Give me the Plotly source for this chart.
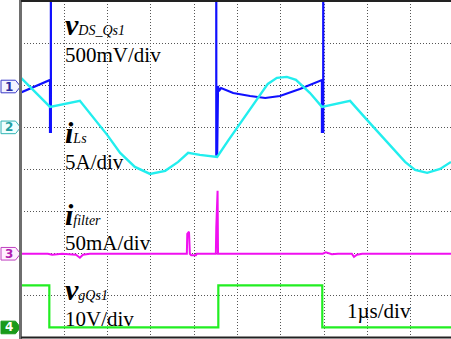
import plotly.graph_objects as go

# ---------------- data (time in µs, 1 µs/div) ----------------
# Channel 1: v_DS_Qs1 in V (500 mV/div); 2.0 V means off the top of the screen
t1 = [0.00, 0.67, 0.67, 0.69, 0.69, 4.51, 4.51, 4.53, 4.55, 4.57, 4.62, 4.90, 5.29, 5.64, 5.98, 6.44, 6.95, 6.95, 6.98, 6.98, 9.93]
v1 = [-0.071, 0.077, -0.54, -0.54, 2.0, 2.0, -0.81, -0.81, 0.006, -0.053, -0.018, -0.077, -0.113, -0.136, -0.113, -0.030, 0.077, -0.54, -0.54, 2.0, 2.0]

# Channel 2: i_Ls in A (5 A/div)
t2 = [0.00, 0.67, 1.36, 1.71, 1.99, 2.29, 2.63, 2.98, 3.33, 3.63, 3.86, 4.13, 4.53, 4.78, 4.99, 5.24, 5.45, 5.70, 5.91, 6.14, 6.35, 6.67, 6.95, 7.60, 7.99, 8.29, 8.57, 8.87, 9.10, 9.38, 9.68, 9.93]
i2 = [5.88, 2.43, 3.15, 0.89, -0.89, -3.03, -4.69, -5.52, -5.16, -4.10, -3.03, -3.26, -3.50, -1.60, -0.06, 1.84, 3.38, 5.16, 5.88, 5.99, 5.64, 4.10, 2.43, 3.15, 0.89, -0.77, -2.43, -4.10, -5.04, -5.40, -4.93, -4.10]

# Channel 3: i_filter in mA (50 mA/div)
t3 = [0.00, 0.62, 0.72, 0.95, 1.27, 1.36, 1.43, 1.59, 3.83, 3.84, 3.88, 3.90, 3.93, 4.04, 4.06, 4.50, 4.51, 4.53, 4.54, 4.55, 6.97, 7.04, 7.18, 7.32, 7.64, 7.69, 7.76, 7.88, 8.45, 9.93]
i3 = [0.0, 0.0, -1.2, 0.0, -1.2, -4.7, -1.2, 0.0, 0.0, 23.7, 26.1, 0.0, -1.8, -1.8, 0.0, 0.0, 30.9, 74.8, 74.8, 0.0, 0.0, 1.8, -0.6, 0.0, 0.0, -3.6, -1.2, 0.0, 0.0, 0.0]

# Channel 4: v_gQs1 in V (10 V/div)
t4 = [0.00, 0.654, 0.654, 4.557, 4.557, 6.958, 6.958, 9.93]
v4 = [10, 10, 0, 0, 10, 10, 0, 0]

# channel settings: reference level (div from bottom), units per div
ch_names = ["1", "2", "3", "4"]
ch_ref = [5.97, 5.0, 2.0, 0.25]
ch_scale = [0.5, 5.0, 50.0, 10.0]
ch_color = ["#1010ff", "#22eeee", "#f010f0", "#22ee22"]

labels_main = ["v", "i", "i", "v"]
labels_sub = ["DS_Qs1", "Ls", "filter", "gQs1"]
labels_scale = ["500mV/div", "5A/div", "50mA/div", "10V/div"]
time_label = "1µs/div"

# ---------------- figure ----------------
W, H = 451, 339
L, T, B = 21, 1, 1
PW = W - L
PH = H - T - B
DIVX = 43.3
XMAX = PW / DIVX


def to_div(vals, k):
    return [ch_ref[k] + v / ch_scale[k] for v in vals]


def px(x):
    return (x - L) / PW


def py(y):
    return (H - B - y) / PH


fig = go.Figure()
order = [(3, t4, v4), (2, t3, i3), (0, t1, v1), (1, t2, i2)]
widths = {0: 2.2, 1: 2.4, 2: 2.0, 3: 2.2}
for k, tt, vv in order:
    fig.add_trace(go.Scatter(x=tt, y=to_div(vv, k), mode="lines",
                             line=dict(color=ch_color[k], width=widths[k]),
                             hoverinfo="skip", showlegend=False))

# channel markers on the left
mk_fill = ["#f4f4ff", "#f0ffff", "#fff0ff", "#1a9a1a"]
mk_line = ["#3a3ac8", "#30b4b4", "#c040c0", "#1a9a1a"]
mk_text = ["#2a2aa0", "#20a0a0", "#b020b0", "#ffffff"]
hh = 6.3 / (PH / 8)
for k in range(4):
    y0 = ch_ref[k]
    path = (f"M {px(1)},{y0 - hh} L {px(15.5)},{y0 - hh} L {px(20.5)},{y0} "
            f"L {px(15.5)},{y0 + hh} L {px(1)},{y0 + hh} Z")
    fig.add_shape(type="path", path=path, xref="paper", yref="y",
                  fillcolor=mk_fill[k], line=dict(color=mk_line[k], width=1))
    fig.add_annotation(x=px(8.5), y=y0, xref="paper", yref="y", text=f"<b>{ch_names[k]}</b>",
                       showarrow=False, font=dict(family="DejaVu Sans", size=12, color=mk_text[k]),
                       xanchor="center", yanchor="middle")

# frame
fig.add_shape(type="line", xref="paper", yref="paper", x0=px(20.5), x1=px(20.5), y0=py(H), y1=py(0),
              line=dict(color="#6e6e6e", width=3))
fig.add_shape(type="line", xref="paper", yref="paper", x0=px(21), x1=1, y0=py(1), y1=py(1),
              line=dict(color="#222222", width=2))
fig.add_shape(type="line", xref="paper", yref="paper", x0=px(21), x1=1, y0=py(337.5), y1=py(337.5),
              line=dict(color="#222222", width=2))

SERIF = "Liberation Serif, Times New Roman, serif"
# label layout: (x left, main-label y-center, scale-label y-center)
lab_pos = [(63, 24.8, 54.9),
           (63, 132.8, 161.9),
           (63, 214.8, 242.9),
           (63, 289.8, 318.9)]
for k in range(4):
    mx, my, scy = lab_pos[k]
    txt = (f"<b><i>{labels_main[k]}</i></b>"
           f"<span style='font-size:14px'><i>{labels_sub[k]}</i></span>")
    fig.add_annotation(x=px(mx), y=py(my), xref="paper", yref="paper", text=txt,
                       showarrow=False, xanchor="left", yanchor="middle",
                       font=dict(family=SERIF, size=30, color="#000000"))
    fig.add_annotation(x=px(63), y=py(scy), xref="paper", yref="paper", text=labels_scale[k],
                       showarrow=False, xanchor="left", yanchor="middle",
                       font=dict(family=SERIF, size=21, color="#000000"))

fig.add_annotation(x=px(345), y=py(311), xref="paper", yref="paper", text=time_label,
                   showarrow=False, xanchor="left", yanchor="middle",
                   font=dict(family=SERIF, size=21, color="#000000"))

grid = dict(showgrid=True, gridcolor="#555555", gridwidth=1, griddash="1px,2px",
            zeroline=False, showticklabels=False, ticks="", showline=False, dtick=1, tick0=0)
fig.update_layout(
    width=W, height=H,
    margin=dict(l=L, r=0, t=T, b=B, pad=0),
    paper_bgcolor="#ffffff", plot_bgcolor="#ffffff",
    xaxis=dict(range=[0, XMAX], fixedrange=True, **grid),
    yaxis=dict(range=[0, 8], fixedrange=True, **grid),
    showlegend=False,
)

fig.write_html("out.html", config={"displayModeBar": False})
